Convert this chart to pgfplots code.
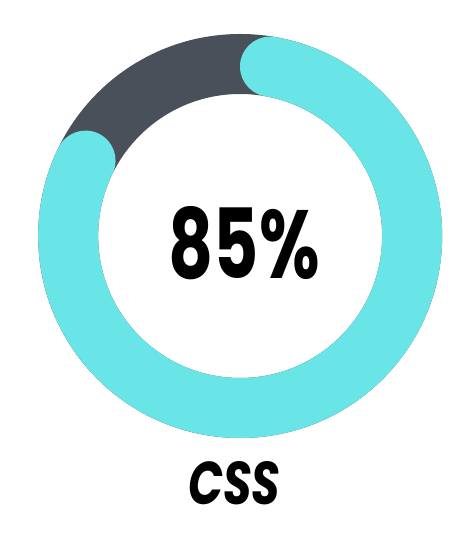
\documentclass[border=0pt]{standalone}
\usepackage{pgfplots}
\pgfplotsset{compat=1.18}
\usepackage{pgfplotstable}
\usepackage{graphicx}
\usepackage{fontspec}
\newfontfamily\heavy{Poppins}
\definecolor{ringbg}{RGB}{74,80,89}
\definecolor{ringfg}{RGB}{105,228,231}

\pgfplotstableread{
label value
CSS   85
}\skills

\begin{document}
\pgfplotstablegetelem{0}{value}\of\skills \let\pct\pgfplotsretval
\pgfplotstablegetelem{0}{label}\of\skills \let\skill\pgfplotsretval
% ring geometry, in pt (1 axis unit = 1pt)
\pgfmathsetmacro{\rmid}{172}
\pgfmathsetmacro{\rw}{60}
\pgfmathsetmacro{\cap}{(\rw/2)/\rmid*180/pi}
\pgfmathsetmacro{\astart}{90-\cap}
\pgfmathsetmacro{\aend}{90-3.6*\pct+\cap}
\begin{tikzpicture}
  \begin{axis}[x=1pt, y=1pt, xmin=-223.5, xmax=223.5, ymin=-323, ymax=236,
      hide axis, clip=false]
    \coordinate (SW) at (axis cs:-223.5,-323);
    \coordinate (NE) at (axis cs:223.5,236);
    % full background ring
    \draw[ringbg, line width=\rw pt] (axis cs:0,0) circle[radius=\rmid pt];
    % value arc, round ends sit inside the 85% sector
    \draw[ringfg, line width=\rw pt, line cap=round]
      (axis cs:{\rmid*cos(\astart)},{\rmid*sin(\astart)})
      arc[start angle=\astart, end angle=\aend, radius=\rmid pt];
    \node at (axis cs:4,-7)
      {\resizebox{151pt}{72pt}{\heavy\bfseries \pct\%}};
    \node at (axis cs:-6,-247)
      {\resizebox{92pt}{43pt}{\heavy\bfseries\itshape \skill}};
  \end{axis}
  \pgfresetboundingbox
  \path[use as bounding box] (SW) rectangle (NE);
\end{tikzpicture}
\end{document}
